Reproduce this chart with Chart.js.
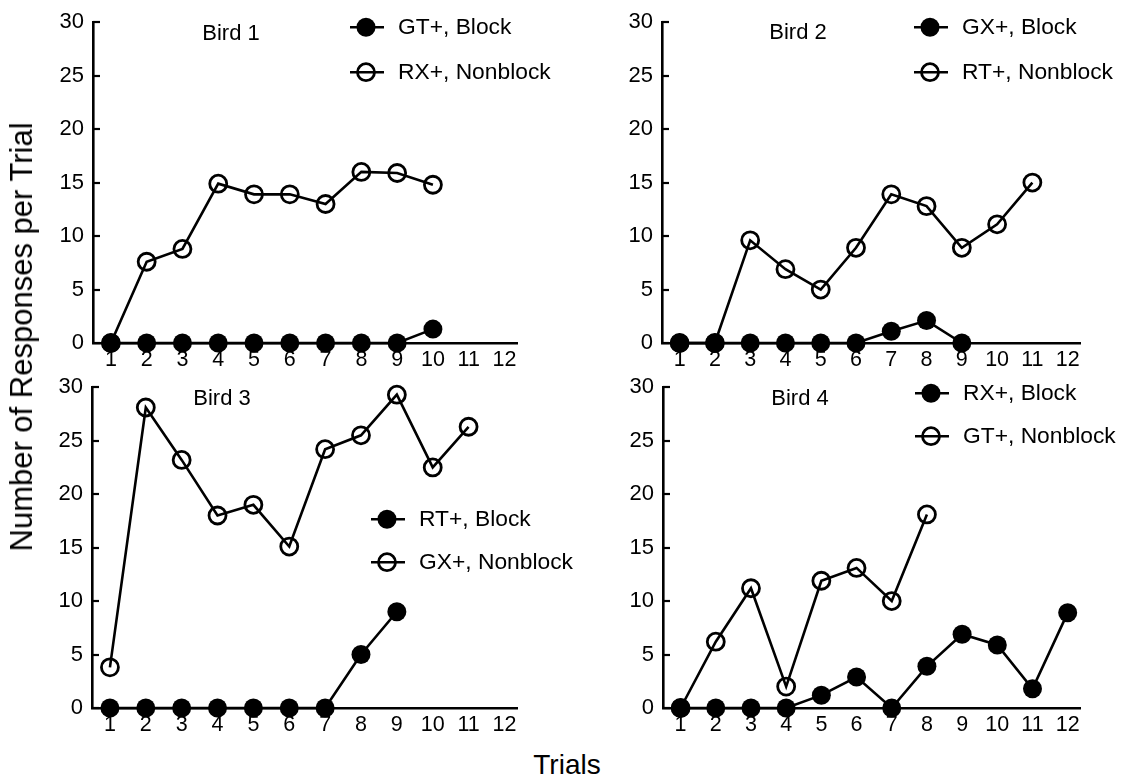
<!DOCTYPE html>
<html>
<head>
<meta charset="utf-8">
<script src="https://cdn.jsdelivr.net/npm/chart.js@4"></script>
<style>
  body { margin:0; background:#fff; width:1130px; height:776px; position:relative; overflow:hidden; font-family:"Liberation Sans", Arial, sans-serif; }
  canvas { position:absolute; }
  .lab { position:absolute; color:#000; white-space:nowrap; font-size:28px; }
</style>
</head>
<body>
<canvas id="c1" style="left:0;top:0"></canvas>
<canvas id="c2" style="left:565px;top:0"></canvas>
<canvas id="c3" style="left:0;top:365px"></canvas>
<canvas id="c4" style="left:565px;top:365px"></canvas>
<div class="lab" id="ylab" style="left:22px;top:337px;font-size:31px;transform:translate(-50%,-50%) rotate(-90deg)">Number of Responses per Trial</div>
<div class="lab" style="left:567px;top:765px;transform:translate(-50%,-50%)">Trials</div>
<script>
let trials = [1,2,3,4,5,6,7,8,9,10,11,12];
let yTicks = [0,5,10,15,20,25,30];

let bird1Block    = [0,0,0,0,0,0,0,0,0,1.3];
let bird1Nonblock = [0,7.6,8.8,14.9,13.9,13.9,13.0,16.0,15.9,14.8];
let bird2Block    = [0,0,0,0,0,0,1.1,2.1,0];
let bird2Nonblock = [0,0,9.6,6.9,5.0,8.9,13.9,12.8,8.9,11.1,15.0];
let bird3Block    = [0,0,0,0,0,0,0,5.0,9.0];
let bird3Nonblock = [3.8,28.1,23.2,18.0,19.0,15.1,24.2,25.5,29.3,22.5,26.3];
let bird4Block    = [0,0,0,0,1.2,2.9,0,3.9,6.9,5.9,1.8,8.9];
let bird4Nonblock = [0,6.2,11.2,2.0,11.9,13.1,10.0,18.1];

let birdNames = ["Bird 1","Bird 2","Bird 3","Bird 4"];
let blockLabels = ["GT+, Block","GX+, Block","RT+, Block","RX+, Block"];
let nonblockLabels = ["RX+, Nonblock","RT+, Nonblock","GX+, Nonblock","GT+, Nonblock"];

const FONT = '"Liberation Sans", Arial, sans-serif';
Chart.defaults.font.family = FONT;
Chart.defaults.color = "#000";

function pts(vals){ return vals.map((v,i)=>({x:trials[i], y:v})); }

// inward ticks on y axis, panel title and the little legend
let extras = {
  id:"extras",
  afterDatasetsDraw(chart, args, o){
    let c = chart.ctx, a = chart.chartArea, y = chart.scales.y;
    c.save();
    c.strokeStyle = "#000"; c.lineWidth = 2.2;
    yTicks.forEach(t=>{
      let py = Math.round(y.getPixelForValue(t));
      c.beginPath(); c.moveTo(a.left, py); c.lineTo(a.left+7, py); c.stroke();
    });
    c.font = "22px " + FONT; c.fillStyle = "#000";
    c.textAlign = "center"; c.textBaseline = "middle";
    c.fillText(o.title, a.left+o.tx, a.top+o.ty);
    c.font = "22.8px " + FONT;
    c.textAlign = "left";
    chart.data.datasets.forEach((ds,i)=>{
      let lx = a.left+o.lx, ly = a.top+o.ly+i*o.gap;
      c.lineWidth = 2.6;
      c.beginPath(); c.moveTo(lx-16, ly); c.lineTo(lx+18, ly); c.stroke();
      c.beginPath();
      if (ds.filled){ c.arc(lx, ly, 9.5, 0, Math.PI*2); c.fill(); }
      else { c.arc(lx, ly, 8.5, 0, Math.PI*2); c.lineWidth = 2.8; c.stroke(); }
      c.fillText(ds.label, lx+32, ly+1);
    });
    c.restore();
  }
};

function makeChart(id, w, pad, block, nonblock, n, opt){
  let cv = document.getElementById(id);
  cv.width = w; cv.height = 375;
  cv.style.width = w+"px"; cv.style.height = "375px";
  return new Chart(cv, {
    type:"line",
    data:{ datasets:[
      { label:blockLabels[n], data:pts(block), filled:true, borderColor:"#000", backgroundColor:"#000",
        borderWidth:2.6, pointRadius:9.5, pointBackgroundColor:"#000", pointBorderWidth:0, clip:false },
      { label:nonblockLabels[n], data:pts(nonblock), filled:false, borderColor:"#000", backgroundColor:"rgba(0,0,0,0)",
        borderWidth:2.6, pointRadius:8.5, pointBackgroundColor:"rgba(0,0,0,0)", pointBorderColor:"#000", pointBorderWidth:2.8, clip:false }
    ]},
    options:{
      responsive:false, animation:false, events:[],
      layout:{ padding:{ left:0, top:22, right:pad.right, bottom:0 } },
      scales:{
        x:{ type:"linear", min:0.5, max:12.35,
          afterBuildTicks:s=>{ s.ticks = trials.map(v=>({value:v})); },
          afterFit:s=>{ s.height = 32; },
          grid:{ display:false, drawTicks:false },
          border:{ display:true, color:"#000", width:2.6 },
          ticks:{ font:{ size:21.5 }, padding:4, autoSkip:false, maxRotation:0 } },
        y:{ min:0, max:30,
          afterBuildTicks:s=>{ s.ticks = yTicks.map(v=>({value:v})); },
          afterFit:s=>{ s.width = pad.left; },
          grid:{ display:false, drawTicks:false },
          border:{ display:true, color:"#000", width:2.6 },
          ticks:{ font:{ size:22 }, padding:9 } }
      },
      plugins:{ legend:{ display:false }, tooltip:{ enabled:false },
        extras: Object.assign({ title:birdNames[n] }, opt) }
    },
    plugins:[extras]
  });
}

makeChart("c1", 565, {left:93, right:48}, bird1Block, bird1Nonblock, 0, {tx:138, ty:12, lx:273, ly:5, gap:45});
makeChart("c2", 565, {left:97, right:50}, bird2Block, bird2Nonblock, 1, {tx:136, ty:11, lx:268, ly:5, gap:45});
makeChart("c3", 620, {left:92, right:103}, bird3Block, bird3Nonblock, 2, {tx:130, ty:12, lx:295, ly:132, gap:43});
makeChart("c4", 565, {left:98, right:50}, bird4Block, bird4Nonblock, 3, {tx:137, ty:12, lx:268, ly:6, gap:43});
</script>
</body>
</html>
